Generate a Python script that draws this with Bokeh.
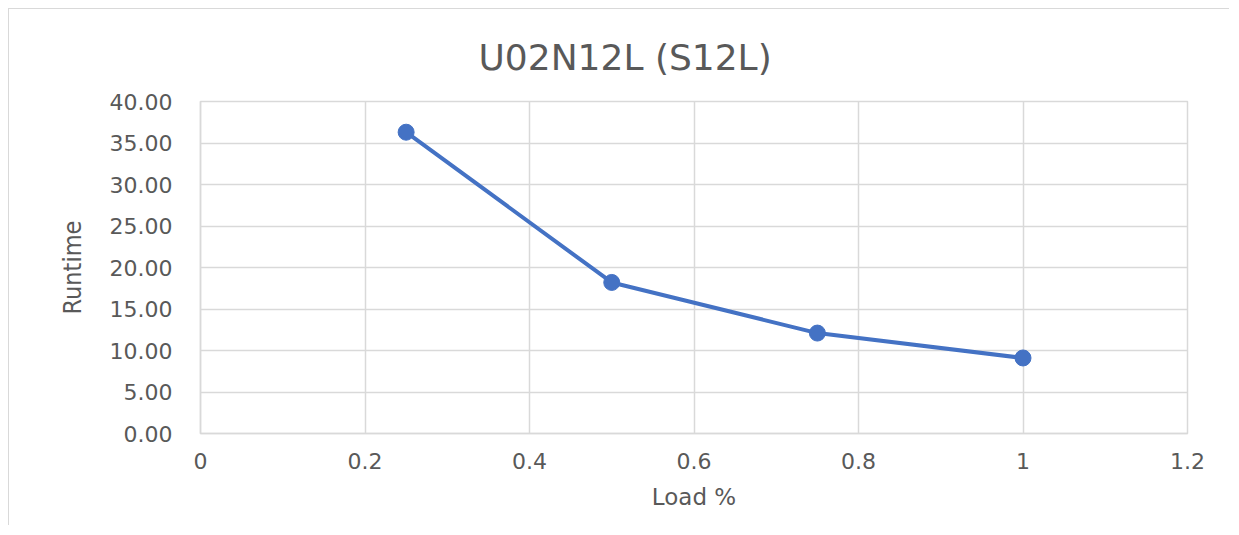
from bokeh.plotting import figure
from bokeh.models import FixedTicker, NumeralTickFormatter, CustomJSTickFormatter, Range1d
from bokeh.embed import file_html
from bokeh.resources import INLINE

# Data
load_pct = [0.25, 0.5, 0.75, 1.0]
runtime = [36.3, 18.2, 12.1, 9.1]
x_ticks = [0, 0.2, 0.4, 0.6, 0.8, 1.0, 1.2]
y_ticks = [0, 5, 10, 15, 20, 25, 30, 35, 40]
title_text = "U02N12L (S12L)"

GRAY = "#d9d9d9"
TXT = "#595959"
BLUE = "#4472C4"

p = figure(width=1221, height=517, output_backend="svg", toolbar_location=None,
           x_range=Range1d(0, 1.2), y_range=Range1d(0, 40),
           min_border_left=191, min_border_top=92, min_border_right=43, min_border_bottom=93,
           styles={"border-left": "1px solid #d9d9d9", "border-top": "1px solid #d9d9d9",
                   "margin-left": "8px", "margin-top": "8px"})

p.title.text = title_text
p.title.align = "left"
p.title.offset = 278
p.title.standoff = 48
p.title.text_font = "DejaVu Sans"
p.title.text_font_size = "36px"
p.title.text_font_style = "normal"
p.title.text_color = TXT

p.outline_line_color = GRAY
p.outline_line_width = 1.5

p.xaxis.ticker = FixedTicker(ticks=x_ticks)
p.yaxis.ticker = FixedTicker(ticks=y_ticks)
p.xaxis.formatter = CustomJSTickFormatter(code="return String(Math.round(tick*10)/10);")
p.yaxis.formatter = NumeralTickFormatter(format="0.00")

for ax in (p.xaxis, p.yaxis):
    ax.axis_line_color = GRAY
    ax.axis_line_width = 1.5
    ax.major_tick_line_color = None
    ax.minor_tick_line_color = None
    ax.major_tick_out = 0
    ax.major_tick_in = 0
    ax.major_label_text_color = TXT
    ax.major_label_text_font = "DejaVu Sans"
    ax.major_label_text_font_size = "22px"
    ax.axis_label_text_color = TXT
    ax.axis_label_text_font_style = "normal"

p.yaxis.major_label_standoff = 28
p.xaxis.major_label_standoff = 19

p.xaxis.axis_label = "Load %"
p.xaxis.axis_label_text_font = "DejaVu Sans"
p.xaxis.axis_label_text_font_size = "23px"
p.xaxis.axis_label_standoff = 12

p.yaxis.axis_label = "Runtime"
p.yaxis.axis_label_text_font = "DejaVu Sans Condensed, Roboto, sans-serif"
p.yaxis.axis_label_text_font_size = "25px"
p.yaxis.axis_label_standoff = 20

p.xgrid.grid_line_color = GRAY
p.ygrid.grid_line_color = GRAY
p.xgrid.grid_line_width = 1.5
p.ygrid.grid_line_width = 1.5

p.line(load_pct, runtime, line_color=BLUE, line_width=4)
p.scatter(load_pct, runtime, size=16, fill_color=BLUE, line_color=BLUE)

open("out.html", "w").write(file_html(p, INLINE))
